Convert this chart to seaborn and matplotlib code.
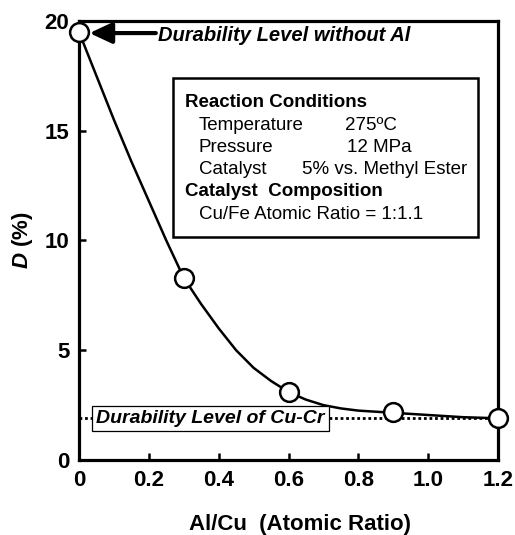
import matplotlib
matplotlib.use('Agg')
import matplotlib.pyplot as plt
from matplotlib.patches import Rectangle
import seaborn as sns
import pandas as pd

# measured points
al_cu = [0.0, 0.3, 0.6, 0.9, 1.2]
d_pct = [19.5, 8.3, 3.1, 2.2, 1.9]

# smooth guide curve
curve_x = [0.0, 0.05, 0.1, 0.15, 0.2, 0.25, 0.3, 0.35, 0.4, 0.45, 0.5, 0.55,
           0.6, 0.65, 0.7, 0.75, 0.8, 0.9, 1.0, 1.1, 1.2]
curve_y = [19.5, 17.5, 15.5, 13.6, 11.8, 10.0, 8.3, 7.1, 6.0, 5.0, 4.2, 3.6,
           3.1, 2.75, 2.5, 2.35, 2.25, 2.15, 2.05, 1.95, 1.9]

cu_cr_level = 1.9

x_ticks = [0, 0.2, 0.4, 0.6, 0.8, 1.0, 1.2]
x_tick_labels = ['0', '0.2', '0.4', '0.6', '0.8', '1.0', '1.2']
y_ticks = [0, 5, 10, 15, 20]

cond_lines = [
    ('Reaction Conditions', None, True),
    ('Temperature', '275ºC', False),
    ('Pressure', '12 MPa', False),
    ('Catalyst', '5% vs. Methyl Ester', False),
    ('Catalyst  Composition', None, True),
    ('Cu/Fe Atomic Ratio = 1:1.1', None, False),
]

sns.set_theme(style='ticks')
plt.rcParams['font.family'] = ['Liberation Sans', 'DejaVu Sans']
plt.rcParams['mathtext.fontset'] = 'custom'
plt.rcParams['mathtext.it'] = 'Liberation Sans:italic:bold'
plt.rcParams['mathtext.rm'] = 'Liberation Sans:bold'
plt.rcParams['text.color'] = 'black'
plt.rcParams['axes.labelcolor'] = 'black'
plt.rcParams['axes.edgecolor'] = 'black'
plt.rcParams['xtick.color'] = 'black'
plt.rcParams['ytick.color'] = 'black'

W, H = 515, 535
fig = plt.figure(figsize=(W / 100, H / 100), dpi=100)
ax = fig.add_axes([79 / W, 1 - 460 / H, (498 - 79) / W, (460 - 21) / H])

curve_df = pd.DataFrame({'x': curve_x, 'y': curve_y})
pts_df = pd.DataFrame({'x': al_cu, 'y': d_pct})

# dotted Cu-Cr level
ax.axhline(cu_cr_level, color='black', ls=(0, (1, 1)), lw=2.0, zorder=1)

sns.lineplot(data=curve_df, x='x', y='y', ax=ax, color='black', lw=1.8,
             sort=False, zorder=2)
ax.plot(pts_df['x'], pts_df['y'], 'o', ms=13.5, mfc='white', mec='black',
        mew=1.8, clip_on=False, zorder=5)

ax.set_xlim(0, 1.2)
ax.set_ylim(0, 20)
ax.set_xticks(x_ticks)
ax.set_xticklabels(x_tick_labels)
ax.set_yticks(y_ticks)
for s in ax.spines.values():
    s.set_linewidth(2.3)
    s.set_visible(True)
ax.tick_params(direction='in', length=5, width=1.8, labelsize=16, pad=7)
for lab in ax.get_xticklabels() + ax.get_yticklabels():
    lab.set_fontweight('bold')

ax.set_xlabel('Al/Cu  (Atomic Ratio)', fontsize=16, fontweight='bold')
ax.xaxis.set_label_coords(0.527, -0.122)
ax.set_ylabel('$D$ (%)', fontsize=16, fontweight='bold')
ax.yaxis.set_label_coords(-0.105, 0.5)

# arrow + label for point without Al
ax.annotate('', xy=(0.03, 19.45), xytext=(0.22, 19.45),
            arrowprops=dict(arrowstyle='-|>,head_length=0.9,head_width=0.42',
                            lw=3.0, color='black', mutation_scale=15,
                            shrinkA=0, shrinkB=0))
ax.text(0.226, 19.35, 'Durability Level without Al', fontsize=14.5,
        fontweight='bold', style='italic', va='center', ha='left')

# Cu-Cr label
ax.text(0.05, cu_cr_level, 'Durability Level of Cu-Cr', fontsize=14,
        fontweight='bold', style='italic', va='center', ha='left', zorder=3,
        bbox=dict(boxstyle='square,pad=0.22', fc='white', ec='black', lw=0.9))

# conditions box (figure pixel layout)
def fx(px):
    return px / W

def fy(py):
    return 1 - py / H

fig.patches.append(Rectangle((fx(173), fy(237)), (478 - 173) / W, (237 - 78) / H,
                             transform=fig.transFigure, fill=False,
                             ec='black', lw=1.8))
row_y = [102, 125, 147, 170, 192, 215]
val_x = {'275ºC': 345, '12 MPa': 347, '5% vs. Methyl Ester': 302}
for (label, value, bold), py in zip(cond_lines, row_y):
    lx = 185 if bold else 199
    fig.text(fx(lx), fy(py), label, fontsize=13.5,
             fontweight='bold' if bold else 'normal', va='center', ha='left')
    if value:
        fig.text(fx(val_x[value]), fy(py), value, fontsize=13.5, va='center', ha='left')

fig.savefig('out.png', dpi=100)
